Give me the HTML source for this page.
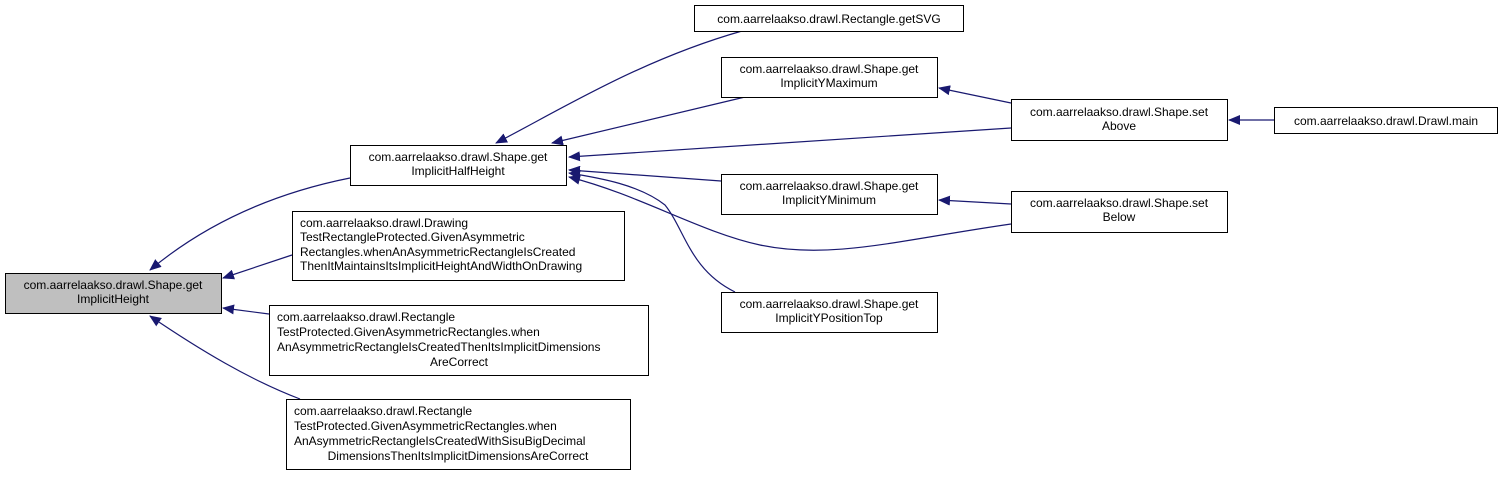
<!DOCTYPE html>
<html><head><meta charset="utf-8"><style>
html,body{margin:0;padding:0;background:#fff;}
svg text{font-family:"Liberation Sans",Arial,sans-serif;font-size:12px;fill:#000;}
</style></head><body>
<svg width="1503" height="475" viewBox="0 0 1503 475" xmlns="http://www.w3.org/2000/svg">
<defs>
<marker id="a" markerWidth="12" markerHeight="10" refX="11" refY="5" orient="auto" markerUnits="userSpaceOnUse">
<path d="M0,0 L12,5 L0,10 Z" fill="#191970"/>
</marker>
</defs>
<g fill="none" stroke="#191970" stroke-width="1.2">
<path d="M350,178 C280,192 210,220 150,270" marker-end="url(#a)"/>
<path d="M292,255 L223,278" marker-end="url(#a)"/>
<path d="M269,314 L223,308" marker-end="url(#a)"/>
<path d="M300,399 C250,380 200,350 150,316" marker-end="url(#a)"/>
<path d="M742,31 C640,60 560,110 496,143" marker-end="url(#a)"/>
<path d="M745,97 L552,143" marker-end="url(#a)"/>
<path d="M1011,128 L569,157" marker-end="url(#a)"/>
<path d="M721,181 L569,170" marker-end="url(#a)"/>
<path d="M1011,224 C900,240 830,260 760,245 C700,232 640,195 569,177" marker-end="url(#a)"/>
<path d="M735,292 C690,270 685,230 665,205 C640,185 600,178 569,173" marker-end="url(#a)"/>
<path d="M1011,103 L939,88" marker-end="url(#a)"/>
<path d="M1011,204 L939,200" marker-end="url(#a)"/>
<path d="M1274,120 L1229,120" marker-end="url(#a)"/>
</g>
<g stroke="#000" stroke-width="1">
<rect x="5.5" y="273.5" width="216" height="40" fill="#bfbfbf"/>
<rect x="350.5" y="145.5" width="216" height="40" fill="#fff"/>
<rect x="292.5" y="211.5" width="332" height="69" fill="#fff"/>
<rect x="269.5" y="305.5" width="379" height="70" fill="#fff"/>
<rect x="286.5" y="399.5" width="344" height="70" fill="#fff"/>
<rect x="694.5" y="5.5" width="269" height="26" fill="#fff"/>
<rect x="721.5" y="57.5" width="216" height="40" fill="#fff"/>
<rect x="1011.5" y="99.5" width="216" height="41" fill="#fff"/>
<rect x="1274.5" y="107.5" width="223" height="26" fill="#fff"/>
<rect x="721.5" y="174.5" width="216" height="40" fill="#fff"/>
<rect x="1011.5" y="191.5" width="216" height="41" fill="#fff"/>
<rect x="721.5" y="292.5" width="216" height="40" fill="#fff"/>
</g>
<g text-anchor="middle">
<text x="113" y="289">com.aarrelaakso.drawl.Shape.get</text>
<text x="113" y="303">ImplicitHeight</text>
<text x="458" y="161">com.aarrelaakso.drawl.Shape.get</text>
<text x="458" y="175">ImplicitHalfHeight</text>
<text x="829" y="23">com.aarrelaakso.drawl.Rectangle.getSVG</text>
<text x="829" y="73">com.aarrelaakso.drawl.Shape.get</text>
<text x="829" y="87">ImplicitYMaximum</text>
<text x="1119" y="116">com.aarrelaakso.drawl.Shape.set</text>
<text x="1119" y="130">Above</text>
<text x="1386" y="125">com.aarrelaakso.drawl.Drawl.main</text>
<text x="829" y="190">com.aarrelaakso.drawl.Shape.get</text>
<text x="829" y="204">ImplicitYMinimum</text>
<text x="1119" y="207">com.aarrelaakso.drawl.Shape.set</text>
<text x="1119" y="221">Below</text>
<text x="829" y="308">com.aarrelaakso.drawl.Shape.get</text>
<text x="829" y="322">ImplicitYPositionTop</text>
<text x="459" y="366">AreCorrect</text>
<text x="458" y="460">DimensionsThenItsImplicitDimensionsAreCorrect</text>
</g>
<g>
<text x="300" y="227">com.aarrelaakso.drawl.Drawing</text>
<text x="300" y="241">TestRectangleProtected.GivenAsymmetric</text>
<text x="300" y="256">Rectangles.whenAnAsymmetricRectangleIsCreated</text>
<text x="300" y="270">ThenItMaintainsItsImplicitHeightAndWidthOnDrawing</text>
<text x="277" y="321">com.aarrelaakso.drawl.Rectangle</text>
<text x="277" y="336">TestProtected.GivenAsymmetricRectangles.when</text>
<text x="277" y="351">AnAsymmetricRectangleIsCreatedThenItsImplicitDimensions</text>
<text x="294" y="415">com.aarrelaakso.drawl.Rectangle</text>
<text x="294" y="430">TestProtected.GivenAsymmetricRectangles.when</text>
<text x="294" y="445">AnAsymmetricRectangleIsCreatedWithSisuBigDecimal</text>
</g>
</svg>
</body></html>
